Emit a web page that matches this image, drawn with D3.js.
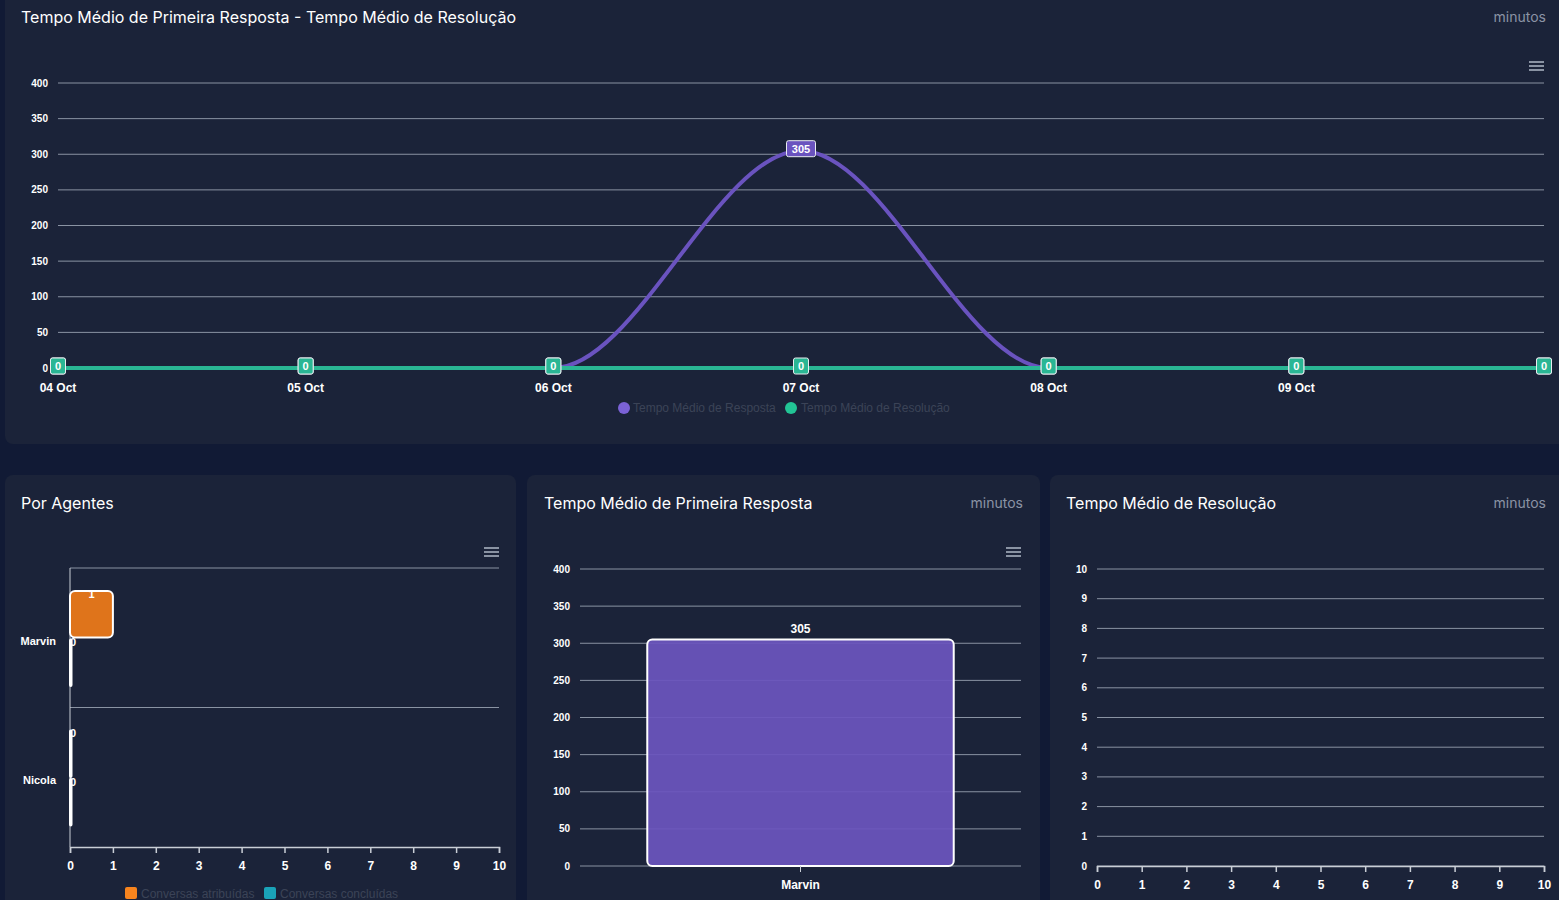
<!DOCTYPE html>
<html>
<head>
<meta charset="utf-8">
<script src="https://cdn.jsdelivr.net/npm/d3@7"></script>
<style>
  html, body { margin: 0; padding: 0; background: #111a35; overflow: hidden; }
  text { font-family: "Liberation Sans", Arial, sans-serif; }
  .title { font-family: Inter, "Noto Sans", sans-serif; font-size: 16px; font-weight: 400; fill: #ffffff; }
  .unit { font-family: Inter, "Noto Sans", sans-serif; font-size: 14px; fill: #8b93a5; }
  .tick-label { font-size: 11px; font-weight: bold; fill: #ffffff; }
  .legend-text { font-size: 12px; fill: #3b4357; }
</style>
</head>
<body>
<script>
// ---- data ----
var dates = ["04 Oct", "05 Oct", "06 Oct", "07 Oct", "08 Oct", "09 Oct", "10 Oct"];
var respostaValues = [0, 0, 0, 305, 0, 0, 0];
var resolucaoValues = [0, 0, 0, 0, 0, 0, 0];
var lineYTicks = [0, 50, 100, 150, 200, 250, 300, 350, 400];

var agentes = ["Marvin", "Nicola"];
var atribuidas = [1, 0];
var concluidas = [0, 0];
var agentesSeries = ["Conversas atribuídas", "Conversas concluídas"];
var agentesXTicks = [0, 1, 2, 3, 4, 5, 6, 7, 8, 9, 10];

var primeiraAgentes = ["Marvin"];
var primeiraValues = [305];
var primeiraYTicks = [0, 50, 100, 150, 200, 250, 300, 350, 400];

var resolucaoYTicks = [0, 1, 2, 3, 4, 5, 6, 7, 8, 9, 10];
var resolucaoXTicks = [0, 1, 2, 3, 4, 5, 6, 7, 8, 9, 10];

var purple = "#6a53bf", green = "#2ab694", orange = "#df741b", teal = "#1aa3b8";
var gridColor = "#8a93a3", panelColor = "#1b2339";

var svg = d3.select("body").append("svg")
            .attr("width", 1559)
            .attr("height", 900);

svg.append("rect").attr("width", 1559).attr("height", 900).attr("fill", "#111a35");

function panel(x, y, w, h) {
    svg.append("rect").attr("x", x).attr("y", y).attr("width", w).attr("height", h)
       .attr("rx", 8).attr("fill", panelColor);
}
function hamburger(x, y) {
    var g = svg.append("g").attr("transform", "translate(" + x + "," + y + ")");
    [0, 4, 8].forEach(function (d) {
        g.append("line").attr("x1", 0).attr("x2", 15).attr("y1", d).attr("y2", d)
         .attr("stroke", "#8a93a3").attr("stroke-width", 2);
    });
}

panel(5, -10, 1580, 454);
panel(5, 475, 511, 450);
panel(527, 475, 513, 450);
panel(1050, 475, 530, 450);

// ---- top: line chart ----
svg.append("text").attr("class", "title").attr("x", 21).attr("y", 23)
   .text("Tempo Médio de Primeira Resposta - Tempo Médio de Resolução");
svg.append("text").attr("class", "unit").attr("x", 1546).attr("y", 22).attr("text-anchor", "end").text("minutos");
hamburger(1529, 62);

var x = d3.scalePoint().domain(dates).range([58, 1544]);
var y = d3.scaleLinear().domain([0, 400]).range([368, 83]);

svg.append("g").selectAll("line").data(lineYTicks).join("line")
   .attr("x1", 58).attr("x2", 1544)
   .attr("y1", function (d) { return y(d); }).attr("y2", function (d) { return y(d); })
   .attr("stroke", gridColor).attr("stroke-width", 1);

svg.append("g").selectAll("text").data(lineYTicks).join("text")
   .attr("class", "tick-label").style("font-size", "10px")
   .attr("x", 48).attr("y", function (d) { return y(d); }).attr("dy", "0.35em")
   .attr("text-anchor", "end").text(function (d) { return d; });

// last date label would overflow the panel, so it is hidden (as in the original)
svg.append("g").selectAll("text").data(dates.slice(0, dates.length - 1)).join("text")
   .attr("class", "tick-label").style("font-size", "12px").style("font-weight", "600")
   .attr("x", function (d) { return x(d); }).attr("y", 392)
   .attr("text-anchor", "middle").text(function (d) { return d; });

var line = d3.line()
    .x(function (d, i) { return x(dates[i]); })
    .y(function (d) { return y(d); })
    .curve(d3.curveMonotoneX);

svg.append("path").datum(respostaValues).attr("d", line)
   .attr("fill", "none").attr("stroke", purple).attr("stroke-width", 4);
svg.append("path").datum(resolucaoValues).attr("d", line)
   .attr("fill", "none").attr("stroke", green).attr("stroke-width", 4);

function pointLabels(values, color) {
    var g = svg.append("g").selectAll("g").data(values).join("g")
        .attr("transform", function (d, i) { return "translate(" + x(dates[i]) + "," + (y(d) - 2) + ")"; });
    g.append("rect")
     .attr("x", function (d) { return -(String(d).length * 7 + 8) / 2; })
     .attr("y", -8).attr("height", 16)
     .attr("width", function (d) { return String(d).length * 7 + 8; })
     .attr("rx", 2).attr("fill", color).attr("stroke", "#e8ecef").attr("stroke-width", 1);
    g.append("text").attr("text-anchor", "middle").attr("dy", "0.35em")
     .style("font-size", "11px").style("font-weight", "bold").attr("fill", "#fff")
     .text(function (d) { return d; });
}
pointLabels(respostaValues, purple);
pointLabels(resolucaoValues, green);

var leg = svg.append("g");
leg.append("circle").attr("cx", 624).attr("cy", 408).attr("r", 6).attr("fill", "#7b62d6");
leg.append("text").attr("class", "legend-text").attr("x", 633).attr("y", 412).text("Tempo Médio de Resposta");
leg.append("circle").attr("cx", 791).attr("cy", 408).attr("r", 6).attr("fill", "#22c495");
leg.append("text").attr("class", "legend-text").attr("x", 801).attr("y", 412).text("Tempo Médio de Resolução");

// ---- bottom left: Por Agentes ----
svg.append("text").attr("class", "title").attr("x", 21).attr("y", 509).text("Por Agentes");
hamburger(484, 548);

var ax = d3.scaleLinear().domain([0, 10]).range([70, 499]);
var ay = d3.scaleBand().domain(agentes).range([568, 847]);
var aySub = d3.scaleBand().domain(agentesSeries).range([23, 118]).paddingInner(0.04);

svg.append("g").selectAll("line").data(agentes).join("line")
   .attr("x1", 70).attr("x2", 499)
   .attr("y1", function (d) { return ay(d); }).attr("y2", function (d) { return ay(d); })
   .attr("stroke", gridColor);
svg.append("line").attr("x1", 70).attr("x2", 70).attr("y1", 568).attr("y2", 847)
   .attr("stroke", "#c9ced6");

svg.append("g").selectAll("text").data(agentes).join("text")
   .attr("class", "tick-label").attr("x", 56)
   .attr("y", function (d) { return ay(d) + ay.bandwidth() / 2 + 3; }).attr("dy", "0.35em")
   .attr("text-anchor", "end").text(function (d) { return d; });

var barData = [];
agentes.forEach(function (a, i) {
    barData.push({ agent: a, series: agentesSeries[0], value: atribuidas[i], color: orange });
    barData.push({ agent: a, series: agentesSeries[1], value: concluidas[i], color: teal });
});
var bars = svg.append("g").selectAll("g").data(barData).join("g");
bars.append("rect")
    .attr("x", ax(0))
    .attr("y", function (d) { return ay(d.agent) + aySub(d.series); })
    .attr("width", function (d) { return Math.max(ax(d.value) - ax(0), 1.5); })
    .attr("height", aySub.bandwidth())
    .attr("rx", function (d) { return d.value > 0 ? 5 : 1; })
    .attr("fill", function (d) { return d.color; })
    .attr("stroke", "#ffffff").attr("stroke-width", 2);
bars.append("text")
    .attr("x", function (d) { return d.value > 0 ? (ax(0) + ax(d.value)) / 2 : ax(0) + 3; })
    .attr("y", function (d) { return ay(d.agent) + aySub(d.series) + 3; })
    .attr("dy", "0.35em").attr("text-anchor", "middle")
    .style("font-size", "11px").style("font-weight", "bold").attr("fill", "#fff")
    .text(function (d) { return d.value; });

var axG = svg.append("g").attr("transform", "translate(0,847)")
    .call(d3.axisBottom(ax).tickValues(agentesXTicks).tickSize(6).tickFormat(d3.format("d")));
axG.select(".domain").attr("stroke", "#c9ced6").attr("stroke-width", 1.5);
axG.selectAll(".tick line").attr("stroke", "#c9ced6").attr("stroke-width", 1.5);
axG.selectAll(".tick text").attr("class", "tick-label").style("font-size", "12px").attr("dy", "1.15em");

var leg2 = svg.append("g");
leg2.append("rect").attr("x", 125).attr("y", 887).attr("width", 12).attr("height", 12).attr("rx", 2).attr("fill", "#f7841e");
leg2.append("text").attr("class", "legend-text").attr("x", 141).attr("y", 898).text(agentesSeries[0]);
leg2.append("rect").attr("x", 264).attr("y", 887).attr("width", 12).attr("height", 12).attr("rx", 2).attr("fill", teal);
leg2.append("text").attr("class", "legend-text").attr("x", 280).attr("y", 898).text(agentesSeries[1]);

// ---- bottom middle: Tempo Médio de Primeira Resposta ----
svg.append("text").attr("class", "title").attr("x", 544).attr("y", 509).text("Tempo Médio de Primeira Resposta");
svg.append("text").attr("class", "unit").attr("x", 1023).attr("y", 508).attr("text-anchor", "end").text("minutos");
hamburger(1006, 548);

var px = d3.scaleBand().domain(primeiraAgentes).range([580, 1021]).padding(0.18);
var py = d3.scaleLinear().domain([0, 400]).range([866, 569]);

svg.append("g").selectAll("line").data(primeiraYTicks).join("line")
   .attr("x1", 580).attr("x2", 1021)
   .attr("y1", function (d) { return py(d); }).attr("y2", function (d) { return py(d); })
   .attr("stroke", gridColor);
svg.append("g").selectAll("text").data(primeiraYTicks).join("text")
   .attr("class", "tick-label").style("font-size", "10px")
   .attr("x", 570).attr("y", function (d) { return py(d); }).attr("dy", "0.35em")
   .attr("text-anchor", "end").text(function (d) { return d; });

var pBars = svg.append("g").selectAll("g").data(primeiraValues).join("g");
pBars.append("rect")
     .attr("x", function (d, i) { return px(primeiraAgentes[i]); })
     .attr("y", function (d) { return py(d); })
     .attr("width", px.bandwidth())
     .attr("height", function (d) { return py(0) - py(d); })
     .attr("rx", 5).attr("fill", "#6b55bd").attr("fill-opacity", 0.93)
     .attr("stroke", "#ffffff").attr("stroke-width", 2);
pBars.append("text")
     .attr("x", function (d, i) { return px(primeiraAgentes[i]) + px.bandwidth() / 2; })
     .attr("y", function (d) { return py(d) - 7; })
     .attr("text-anchor", "middle").style("font-size", "12px").style("font-weight", "bold")
     .attr("fill", "#fff").text(function (d) { return d; });

var pxG = svg.append("g").attr("transform", "translate(0,866)")
    .call(d3.axisBottom(px).tickSize(6));
pxG.select(".domain").remove();
pxG.selectAll(".tick line").attr("stroke", "#c9ced6");
pxG.selectAll(".tick text").attr("class", "tick-label").style("font-size", "12px").attr("dy", "1.2em");

// ---- bottom right: Tempo Médio de Resolução ----
svg.append("text").attr("class", "title").attr("x", 1066).attr("y", 509).text("Tempo Médio de Resolução");
svg.append("text").attr("class", "unit").attr("x", 1546).attr("y", 508).attr("text-anchor", "end").text("minutos");

var rx = d3.scaleLinear().domain([0, 10]).range([1097, 1544]);
var ry = d3.scaleLinear().domain([0, 10]).range([866, 569]);

svg.append("g").selectAll("line").data(resolucaoYTicks).join("line")
   .attr("x1", 1097).attr("x2", 1544)
   .attr("y1", function (d) { return ry(d); }).attr("y2", function (d) { return ry(d); })
   .attr("stroke", gridColor);
svg.append("g").selectAll("text").data(resolucaoYTicks).join("text")
   .attr("class", "tick-label").style("font-size", "10px")
   .attr("x", 1087).attr("y", function (d) { return ry(d); }).attr("dy", "0.35em")
   .attr("text-anchor", "end").text(function (d) { return d; });

var rxG = svg.append("g").attr("transform", "translate(0,866)")
    .call(d3.axisBottom(rx).tickValues(resolucaoXTicks).tickSize(6).tickFormat(d3.format("d")));
rxG.select(".domain").attr("stroke", "#c9ced6").attr("stroke-width", 1.5);
rxG.selectAll(".tick line").attr("stroke", "#c9ced6").attr("stroke-width", 1.5);
rxG.selectAll(".tick text").attr("class", "tick-label").style("font-size", "12px").attr("dy", "1.2em");
</script>
</body>
</html>
